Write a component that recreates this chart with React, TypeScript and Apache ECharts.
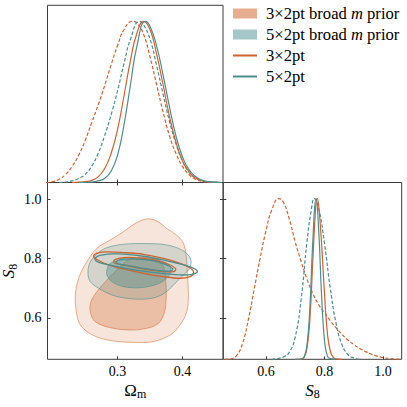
import React, { useEffect, useRef } from 'react';
import * as echarts from 'echarts';

// ---------- names ----------
const N3B = '3×2pt broad m prior';
const N5B = '5×2pt broad m prior';
const N3 = '3×2pt';
const N5 = '5×2pt';

// ---------- axis ranges / ticks ----------
const omegaRange = [0.192, 0.4625];
const s8VertRange = [0.46, 1.057];
const s8HorizRange = [0.454, 1.064];
const densityRange = [0, 1.1];
const omegaTicks = [0.3, 0.4];
const s8Ticks = [0.6, 0.8, 1.0];

// ---------- 1D marginals: Omega_m ----------
const omBroad3 = [[0.19,0],[0.20,0.005],[0.21,0.02],[0.22,0.05],[0.23,0.10],[0.24,0.17],[0.25,0.26],[0.26,0.37],[0.27,0.48],[0.28,0.60],[0.29,0.73],[0.30,0.85],[0.31,0.95],[0.323,1.0],[0.33,0.99],[0.34,0.92],[0.35,0.78],[0.36,0.61],[0.37,0.44],[0.38,0.29],[0.39,0.18],[0.40,0.10],[0.41,0.05],[0.42,0.02],[0.43,0.007],[0.44,0.002],[0.46,0]];
const omBroad5 = [[0.21,0],[0.22,0.003],[0.23,0.01],[0.24,0.025],[0.25,0.05],[0.26,0.10],[0.27,0.18],[0.28,0.29],[0.29,0.42],[0.30,0.57],[0.31,0.74],[0.32,0.89],[0.334,1.0],[0.34,0.98],[0.35,0.89],[0.36,0.73],[0.37,0.55],[0.38,0.38],[0.39,0.24],[0.40,0.134],[0.41,0.066],[0.42,0.029],[0.43,0.012],[0.44,0.004],[0.46,0]];
const om3 = [[0.23,0],[0.24,0.002],[0.25,0.005],[0.26,0.013],[0.27,0.035],[0.28,0.085],[0.29,0.18],[0.30,0.33],[0.31,0.54],[0.32,0.76],[0.33,0.93],[0.34,1.0],[0.35,0.95],[0.36,0.80],[0.37,0.61],[0.38,0.41],[0.39,0.25],[0.40,0.135],[0.41,0.066],[0.42,0.028],[0.43,0.011],[0.44,0.004],[0.46,0]];
const om5 = [[0.24,0],[0.25,0.001],[0.26,0.003],[0.27,0.01],[0.28,0.025],[0.29,0.07],[0.30,0.17],[0.31,0.36],[0.32,0.61],[0.33,0.85],[0.343,1.0],[0.35,0.97],[0.36,0.85],[0.37,0.67],[0.38,0.47],[0.39,0.29],[0.40,0.16],[0.41,0.08],[0.42,0.037],[0.43,0.015],[0.44,0.005],[0.46,0]];

// ---------- 1D marginals: S8 ----------
const s8Broad3 = [[0.46,0],[0.48,0.003],[0.50,0.025],[0.52,0.10],[0.54,0.25],[0.56,0.44],[0.58,0.63],[0.60,0.80],[0.62,0.93],[0.644,1.0],[0.66,0.975],[0.68,0.87],[0.70,0.73],[0.72,0.61],[0.74,0.50],[0.76,0.41],[0.78,0.34],[0.80,0.29],[0.82,0.24],[0.84,0.195],[0.86,0.155],[0.88,0.12],[0.90,0.092],[0.92,0.068],[0.94,0.048],[0.96,0.032],[0.98,0.02],[1.00,0.011],[1.02,0.005],[1.04,0.002],[1.06,0]];
const s8Broad5 = [[0.62,0],[0.64,0.005],[0.66,0.015],[0.68,0.045],[0.70,0.14],[0.72,0.37],[0.74,0.73],[0.755,0.93],[0.765,1.0],[0.78,0.94],[0.80,0.72],[0.82,0.44],[0.84,0.22],[0.86,0.09],[0.88,0.03],[0.90,0.008],[0.92,0]];
const s83 = [[0.70,0],[0.72,0.002],[0.73,0.011],[0.74,0.066],[0.75,0.25],[0.76,0.61],[0.77,0.95],[0.775,1.0],[0.78,0.96],[0.79,0.72],[0.80,0.41],[0.81,0.16],[0.82,0.05],[0.83,0.012],[0.84,0.003],[0.86,0]];
const s85 = [[0.70,0],[0.72,0.002],[0.73,0.014],[0.74,0.086],[0.75,0.32],[0.76,0.73],[0.771,1.0],[0.78,0.81],[0.79,0.40],[0.80,0.117],[0.81,0.02],[0.82,0.004],[0.84,0]];

// ---------- 2D contours (Omega_m, S8) ----------
const broad3Outer = [[0.3451,0.934],[0.3605,0.927],[0.3759,0.902],[0.3938,0.874],[0.4015,0.852],[0.4056,0.812],[0.4077,0.745],[0.4092,0.677],[0.4067,0.621],[0.3964,0.576],[0.3810,0.542],[0.3554,0.520],[0.3297,0.517],[0.2938,0.522],[0.2631,0.540],[0.2426,0.576],[0.2364,0.621],[0.2349,0.677],[0.2400,0.734],[0.2528,0.790],[0.2682,0.835],[0.2887,0.863],[0.3092,0.891],[0.3272,0.919]];
const broad3Inner = [[0.3195,0.7989],[0.3451,0.8034],[0.3631,0.7955],[0.3708,0.7730],[0.3744,0.7223],[0.3749,0.6660],[0.3718,0.6153],[0.3631,0.5815],[0.3451,0.5646],[0.3195,0.5590],[0.2887,0.5669],[0.2656,0.5872],[0.2579,0.6209],[0.2590,0.6547],[0.2682,0.6885],[0.2836,0.7279],[0.3015,0.7673]];
const broad5Outer = [[0.2656,0.8101],[0.2810,0.8349],[0.3092,0.8484],[0.3451,0.8507],[0.3759,0.8462],[0.3990,0.8293],[0.4108,0.8068],[0.4133,0.7842],[0.4092,0.7617],[0.3990,0.7392],[0.3887,0.7167],[0.3785,0.6941],[0.3656,0.6750],[0.3451,0.6637],[0.3144,0.6660],[0.2913,0.6773],[0.2708,0.6998],[0.2579,0.7223],[0.2544,0.7505],[0.2569,0.7842]];
const broad5Inner = [[0.2836,0.7617],[0.2887,0.7842],[0.3092,0.7944],[0.3400,0.7989],[0.3656,0.7921],[0.3785,0.7786],[0.3821,0.7561],[0.3759,0.7336],[0.3605,0.7133],[0.3349,0.7020],[0.3092,0.7054],[0.2913,0.7223],[0.2836,0.7448]];
const c3Outer = [[0.2672,0.8180],[0.2810,0.8225],[0.3092,0.8203],[0.3400,0.8146],[0.3708,0.8011],[0.3964,0.7842],[0.4128,0.7673],[0.4174,0.7527],[0.4118,0.7392],[0.3964,0.7336],[0.3708,0.7392],[0.3400,0.7505],[0.3092,0.7651],[0.2836,0.7809],[0.2692,0.7955],[0.2630,0.8068]];
const c5Outer = [[0.2650,0.8000],[0.2750,0.8120],[0.3000,0.8160],[0.3400,0.8080],[0.3750,0.7930],[0.4050,0.7770],[0.4200,0.7640],[0.4230,0.7550],[0.4150,0.7470],[0.3950,0.7450],[0.3600,0.7520],[0.3200,0.7640],[0.2900,0.7770],[0.2700,0.7880]];
const c3Inner = [[0.2938,0.7921],[0.3015,0.8011],[0.3246,0.8034],[0.3554,0.7955],[0.3785,0.7809],[0.3897,0.7651],[0.3862,0.7561],[0.3708,0.7561],[0.3400,0.7651],[0.3144,0.7764],[0.2964,0.7842]];
const c5Inner = [[0.2979,0.7899],[0.3051,0.7977],[0.3272,0.7989],[0.3554,0.7921],[0.3759,0.7786],[0.3851,0.7651],[0.3821,0.7583],[0.3682,0.7583],[0.3400,0.7673],[0.3169,0.7764],[0.3010,0.7820]];

// ---------- styles ----------
const ORANGE = '#CF6230';
const TEAL = '#4B8E8D';
const FRAME = '#3c3c3c';
const SERIF = 'Liberation Serif';

export default function App() {
  const ref = useRef<HTMLDivElement>(null);
  useEffect(() => {
    if (!ref.current) return;
    const chart = echarts.init(ref.current, undefined, { renderer: 'svg' });

    const tick = (vals: number[]) => ({
      show: true, inside: true, length: 3, customValues: vals,
      lineStyle: { color: FRAME, width: 1 },
    });
    const noLabel = { show: false };
    const noSplit = { show: false };
    const noLine = { show: false };
    const labelStyle = (vals: number[]) => ({
      show: true, customValues: vals, fontFamily: SERIF, fontSize: 14, color: '#000', margin: 5,
      formatter: (v: number) => v.toFixed(1),
    });
    const nameRich = {
      a: { fontFamily: SERIF, fontSize: 17, color: '#000' },
      i: { fontFamily: SERIF, fontSize: 17, color: '#000', fontStyle: 'italic' },
      b: { fontFamily: SERIF, fontSize: 12, color: '#000', padding: [8, 0, 0, 0] },
    };

    const polygon = (name: string, pts: number[][], fill: string, stroke: string, lw: number, z: number) => ({
      type: 'custom', name, coordinateSystem: 'cartesian2d', xAxisIndex: 1, yAxisIndex: 1,
      silent: true, z, data: [pts[0]],
      renderItem: (_p: any, api: any) => ({
        type: 'polygon',
        shape: { points: pts.map((p) => api.coord(p)), smooth: 0.35 },
        style: { fill, stroke, lineWidth: lw },
      }),
    });
    const line1d = (name: string, data: number[][], color: string, dashed: boolean, xi: number, yi: number, z: number) => ({
      type: 'line', name, xAxisIndex: xi, yAxisIndex: yi, data, color,
      showSymbol: false, symbol: 'none', smooth: 0.5, silent: true, z,
      lineStyle: { color, width: 1.2, type: dashed ? [3.5, 2] : 'solid' },
    });

    const option: any = {
      animation: false,
      textStyle: { fontFamily: SERIF, color: '#000' },
      grid: [
        { left: 47.5, top: 5.3, width: 175.5, height: 177.2, show: true, borderColor: FRAME, borderWidth: 1, outerBoundsMode: 'none' },
        { left: 47.5, top: 182.5, width: 175.5, height: 176.8, show: true, borderColor: FRAME, borderWidth: 1, outerBoundsMode: 'none' },
        { left: 223.3, top: 182.5, width: 178.4, height: 176.8, show: true, borderColor: FRAME, borderWidth: 1, outerBoundsMode: 'none' },
      ],
      xAxis: [
        { gridIndex: 0, type: 'value', min: omegaRange[0], max: omegaRange[1], axisLine: noLine, axisTick: tick(omegaTicks), axisLabel: noLabel, splitLine: noSplit },
        {
          gridIndex: 1, type: 'value', min: omegaRange[0], max: omegaRange[1], axisLine: noLine, axisTick: tick(omegaTicks),
          axisLabel: labelStyle(omegaTicks), splitLine: noSplit,
          name: '{a|Ω}{b|m}', nameLocation: 'middle', nameGap: 21, nameTextStyle: { rich: nameRich },
        },
        { gridIndex: 1, type: 'value', position: 'top', min: omegaRange[0], max: omegaRange[1], axisLine: noLine, axisTick: tick(omegaTicks), axisLabel: noLabel, splitLine: noSplit },
        {
          gridIndex: 2, type: 'value', min: s8HorizRange[0], max: s8HorizRange[1], axisLine: noLine, axisTick: tick(s8Ticks),
          axisLabel: labelStyle(s8Ticks), splitLine: noSplit,
          name: '{i|S}{b|8}', nameLocation: 'middle', nameGap: 21, nameTextStyle: { rich: nameRich },
        },
      ],
      yAxis: [
        { gridIndex: 0, type: 'value', min: densityRange[0], max: densityRange[1], show: false },
        {
          gridIndex: 1, type: 'value', min: s8VertRange[0], max: s8VertRange[1], axisLine: noLine, axisTick: tick(s8Ticks),
          axisLabel: { ...labelStyle(s8Ticks), margin: 6 }, splitLine: noSplit,
          name: '{i|S}{b|8}', nameLocation: 'middle', nameRotate: 90, nameGap: 29, nameTextStyle: { rich: nameRich },
        },
        { gridIndex: 1, type: 'value', position: 'right', min: s8VertRange[0], max: s8VertRange[1], axisLine: noLine, axisTick: tick(s8Ticks), axisLabel: noLabel, splitLine: noSplit },
        { gridIndex: 2, type: 'value', min: densityRange[0], max: densityRange[1], show: false },
        { gridIndex: 2, type: 'value', position: 'left', min: s8VertRange[0], max: s8VertRange[1], axisLine: noLine, axisTick: tick(s8Ticks), axisLabel: noLabel, splitLine: noSplit },
      ],
      legend: {
        orient: 'vertical', left: 232, top: 5, padding: 0, itemGap: 4, itemWidth: 24, itemHeight: 10,
        selectedMode: false,
        data: [
          { name: N3B, icon: 'rect', itemStyle: { color: 'rgba(208,98,44,0.52)', borderWidth: 0 } },
          { name: N5B, icon: 'rect', itemStyle: { color: 'rgba(76,144,144,0.5)', borderWidth: 0 } },
          { name: N3, itemStyle: { color: 'rgba(0,0,0,0)', borderWidth: 0 } },
          { name: N5, itemStyle: { color: 'rgba(0,0,0,0)', borderWidth: 0 } },
        ],
        formatter: (n: string) => (n.indexOf(' m ') >= 0
          ? `{n|${n.split(' m ')[0]} }{m|m}{n| prior}`
          : `{n|${n}}`),
        textStyle: {
          padding: [0, 0, 0, 4],
          rich: {
            n: { fontFamily: SERIF, fontSize: 16.6, color: '#000' },
            m: { fontFamily: SERIF, fontSize: 16.6, color: '#000', fontStyle: 'italic' },
          },
        },
      },
      series: [
        line1d(N3, om3, ORANGE, false, 0, 0, 5),
        line1d(N5, om5, TEAL, false, 0, 0, 6),
        line1d(N3B, omBroad3, ORANGE, true, 0, 0, 3),
        line1d(N5B, omBroad5, TEAL, true, 0, 0, 4),
        line1d(N3B, s8Broad3, ORANGE, true, 3, 3, 3),
        line1d(N5B, s8Broad5, TEAL, true, 3, 3, 4),
        line1d(N3, s83, ORANGE, false, 3, 3, 5),
        line1d(N5, s85, TEAL, false, 3, 3, 6),
        polygon(N3B, broad3Outer, 'rgba(208,98,44,0.17)', 'rgba(208,98,44,0.5)', 1, 1),
        polygon(N3B, broad3Inner, 'rgba(208,98,44,0.3)', 'rgba(208,98,44,0.5)', 1, 1),
        polygon(N5B, broad5Outer, 'rgba(76,144,144,0.2)', 'rgba(76,144,144,0.6)', 1, 2),
        polygon(N5B, broad5Inner, 'rgba(76,144,144,0.42)', 'rgba(76,144,144,0.6)', 1, 2),
        polygon(N3, c3Outer, 'none', ORANGE, 1.3, 3),
        polygon(N3, c3Inner, 'none', ORANGE, 1.3, 3),
        polygon(N5, c5Outer, 'none', TEAL, 1.3, 4),
        polygon(N5, c5Inner, 'none', TEAL, 1.3, 4),
      ],
    };
    chart.setOption(option);
    return () => chart.dispose();
  }, []);
  return <div ref={ref} style={{ position: 'absolute', left: 0, top: 0, width: 407, height: 407 }} />;
}
